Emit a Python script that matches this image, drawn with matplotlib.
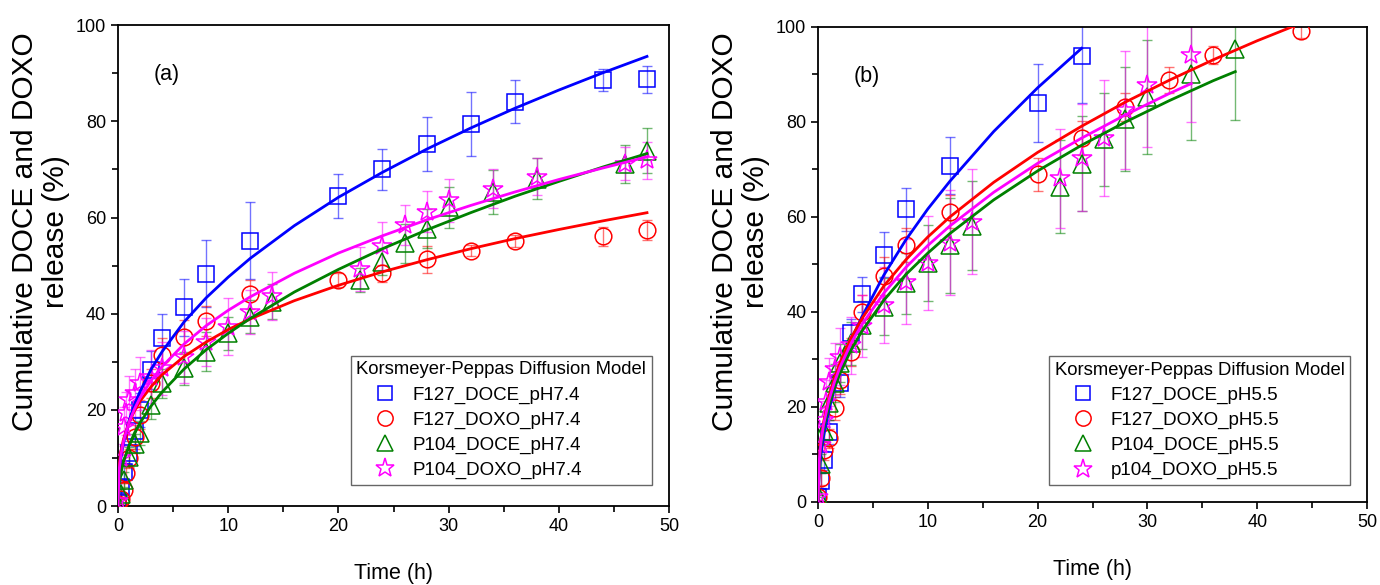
import matplotlib
matplotlib.use("Agg")
import matplotlib.pyplot as plt
from matplotlib.lines import Line2D
from matplotlib.ticker import MultipleLocator

plt.rcParams['font.family'] = ['Liberation Sans', 'DejaVu Sans']

# --- Panel (a): pH 7.4 ---
t_blue_a = [0, 0.25, 0.5, 1, 1.5, 2, 3, 4, 6, 8, 12, 20, 24, 28, 32, 36, 44, 48]
y_blue_a = [1, 4, 7, 11, 15.5, 20, 28.3, 35, 41.3, 48.3, 55.2, 64.5, 70, 75.2, 79.4, 84.1, 88.6, 88.7]
e_blue_a = [0.5, 1.5, 2, 2.5, 3, 3.5, 4, 5, 5.9, 7, 8, 4.6, 4.2, 5.6, 6.6, 4.4, 2.3, 2.9]

t_red_a = [0, 0.25, 0.5, 0.75, 1, 1.5, 2, 3, 4, 6, 8, 12, 20, 24, 28, 32, 36, 44, 48]
y_red_a = [0.5, 1.5, 3.3, 6.8, 9.9, 14.4, 19, 25.5, 31.4, 35.2, 38.5, 44, 47, 48.4, 51.3, 53.1, 55.1, 56.1, 57.4]
e_red_a = [0.5, 1, 1.5, 2, 2, 2.5, 3, 3, 3.5, 3.5, 3.2, 3, 1.5, 1.8, 2.8, 1.2, 1.2, 2, 2]

t_green_a = [0, 0.25, 0.5, 1, 1.5, 2, 3, 4, 6, 8, 10, 12, 14, 22, 24, 26, 28, 30, 34, 38, 46, 48]
y_green_a = [0.5, 2.6, 5.5, 10.2, 13, 15.1, 21, 25.5, 28.6, 32.1, 35.9, 39.4, 42.5, 47, 50.8, 54.6, 57.7, 62.1, 65.3, 68.1, 71.1, 73.9]
e_green_a = [0.5, 1, 1.5, 2, 2, 2.5, 3, 3, 3.5, 4, 3.5, 3.5, 3.6, 2.5, 2.8, 4, 4, 4.3, 4.5, 4.3, 3.9, 4.7]

t_mag_a = [0, 0.25, 0.5, 0.75, 1, 1.5, 2, 3, 4, 6, 8, 10, 12, 14, 22, 24, 26, 28, 30, 34, 38, 46, 48]
y_mag_a = [1, 10, 16.5, 19.3, 22, 23.5, 25.5, 26.9, 28.6, 31, 34.2, 37.3, 40.4, 43.7, 49.3, 54.1, 58.4, 61.2, 63.6, 66, 68.5, 71.2, 71.9]
e_mag_a = [0.5, 3, 4, 4.5, 5, 5, 5.5, 5.5, 5.5, 5.5, 5, 5.9, 4.6, 5, 4.6, 5, 4.2, 4.3, 4.5, 4, 3.8, 3.5, 3.8]

# Korsmeyer-Peppas fit curves
fit_t_a = [0, 0.1, 0.25, 0.5, 1, 1.5, 2, 3, 4, 6, 8, 10, 12, 16, 20, 24, 28, 32, 36, 40, 44, 48]
fit_blue_a = [0, 6.6, 9.8, 13.1, 17.7, 21.1, 23.8, 28.4, 32.1, 38.3, 43.3, 47.6, 51.5, 58.3, 64.2, 69.4, 74.2, 78.6, 82.7, 86.5, 90.1, 93.5]
fit_red_a = [0, 8.3, 11.1, 13.9, 17.4, 19.8, 21.8, 24.8, 27.3, 31.1, 34.1, 36.7, 38.9, 42.7, 45.9, 48.7, 51.2, 53.5, 55.6, 57.5, 59.3, 61.0]
fit_green_a = [0, 4.4, 6.7, 9.2, 12.6, 15.2, 17.3, 20.8, 23.7, 28.5, 32.5, 35.9, 39.0, 44.5, 49.2, 53.5, 57.4, 61.0, 64.4, 67.5, 70.5, 73.3]
fit_mag_a = [0, 7.4, 10.4, 13.5, 17.4, 20.2, 22.5, 26.1, 29.0, 33.7, 37.5, 40.7, 43.5, 48.4, 52.6, 56.2, 59.5, 62.5, 65.3, 67.9, 70.3, 72.6]

labels_a = ["F127_DOCE_pH7.4", "F127_DOXO_pH7.4", "P104_DOCE_pH7.4", "P104_DOXO_pH7.4"]

# --- Panel (b): pH 5.5 ---
t_blue_b = [0, 0.25, 0.5, 1, 2, 3, 4, 6, 8, 12, 20, 24]
y_blue_b = [1, 4.5, 8.8, 14.7, 25, 35.5, 43.7, 52.1, 61.6, 70.8, 83.9, 93.8]
e_blue_b = [0.5, 1.5, 2, 2.5, 3, 3, 3.6, 4.7, 4.5, 6, 8.2, 9.8]

t_red_b = [0, 0.25, 0.5, 1, 1.5, 2, 3, 4, 6, 8, 12, 20, 24, 28, 32, 36, 44]
y_red_b = [1, 5, 10.9, 13.4, 19.7, 25.7, 31.6, 40.1, 47.6, 54.1, 61.1, 69, 76.6, 83.2, 88.8, 94.1, 99.2]
e_red_b = [0.5, 1.5, 2, 2, 2.5, 3, 3, 3.5, 4, 3.5, 3.5, 3.5, 3.5, 3, 2.8, 1.9, 1.5]

t_green_b = [0, 0.25, 0.5, 1, 1.5, 2, 3, 4, 6, 8, 10, 12, 14, 22, 24, 26, 28, 30, 34, 38]
y_green_b = [1.5, 8, 15, 20.8, 25, 29.2, 33.4, 37.3, 41.1, 46, 50.3, 54.1, 58.2, 66.4, 71.2, 76.4, 80.6, 85.2, 90, 95.3]
e_green_b = [0.5, 2, 3, 3.5, 4, 4, 4.5, 5, 6, 6.5, 8, 10, 9.4, 9.7, 10, 9.8, 11, 12, 13.8, 14.9]

t_mag_b = [0, 0.25, 0.5, 0.75, 1, 1.5, 2, 3, 4, 6, 8, 10, 12, 14, 22, 24, 26, 28, 30, 34]
y_mag_b = [1, 12, 17.3, 21.1, 25.3, 28, 30.6, 33, 37, 41.5, 46.4, 50.4, 54.6, 59, 68.1, 72.5, 76.6, 82.5, 87.8, 94.2]
e_mag_b = [0.5, 3, 4, 4.5, 5, 5.5, 6, 6, 6.5, 8, 9, 9.9, 11, 11, 10.5, 11.3, 12.2, 12.4, 13, 14.3]

fit_t_blue_b = [0, 0.1, 0.25, 0.5, 1, 1.5, 2, 3, 4, 6, 8, 10, 12, 16, 20, 24]
fit_blue_b = [0, 6.2, 9.8, 13.8, 19.5, 23.9, 27.6, 33.8, 39.0, 47.8, 55.2, 61.7, 67.5, 78.0, 87.2, 95.5]
fit_t_red_b = [0, 0.1, 0.25, 0.5, 1, 1.5, 2, 3, 4, 6, 8, 10, 12, 16, 20, 24, 28, 32, 36, 40, 44]
fit_red_b = [0, 8.8, 12.7, 16.8, 22.2, 26.1, 29.3, 34.5, 38.6, 45.5, 51.0, 55.8, 60.0, 67.3, 73.6, 79.1, 84.2, 88.8, 93.1, 97.1, 100.8]
fit_t_green_b = [0, 0.1, 0.25, 0.5, 1, 1.5, 2, 3, 4, 6, 8, 10, 12, 16, 20, 24, 28, 32, 36, 38]
fit_green_b = [0, 7.9, 11.6, 15.4, 20.4, 24.1, 27.1, 32.0, 36.0, 42.5, 47.9, 52.4, 56.5, 63.6, 69.7, 75.1, 80.0, 84.5, 88.7, 90.6]
fit_t_mag_b = [0, 0.1, 0.25, 0.5, 1, 1.5, 2, 3, 4, 6, 8, 10, 12, 16, 20, 24, 28, 32, 34]
fit_mag_b = [0, 8.6, 12.3, 16.3, 21.5, 25.3, 28.4, 33.4, 37.4, 44.0, 49.4, 54.0, 58.1, 65.2, 71.3, 76.6, 81.5, 86.0, 88.1]

labels_b = ["F127_DOCE_pH5.5", "F127_DOXO_pH5.5", "P104_DOCE_pH5.5", "p104_DOXO_pH5.5"]

colors = ["#0000ff", "#ff0000", "#008000", "#ff00ff"]
markers = ["s", "o", "^", "*"]
msizes = [11, 12, 13, 15]


def draw_panel(ax, series, fits, labels, tag, leg_anchor):
    for (t, y, e), c, m, ms in zip(series, colors, markers, msizes):
        ax.errorbar(t, y, yerr=e, fmt="none", ecolor=c, elinewidth=1,
                    capsize=3.5, alpha=0.55, zorder=2)
        ax.plot(t, y, linestyle="none", marker=m, markersize=ms,
                markerfacecolor="none", markeredgecolor=c, markeredgewidth=1.1, zorder=3)
    for (ft, fy), c in zip(fits, colors):
        ax.plot(ft, fy, color=c, linewidth=2.0, zorder=4)

    ax.set_xlim(0, 50)
    ax.set_ylim(0, 100)
    ax.xaxis.set_major_locator(MultipleLocator(10))
    ax.xaxis.set_minor_locator(MultipleLocator(5))
    ax.yaxis.set_major_locator(MultipleLocator(20))
    ax.yaxis.set_minor_locator(MultipleLocator(10))
    ax.tick_params(which="both", direction="out", top=False, right=False,
                   width=1.2, labelsize=13)
    ax.tick_params(which="major", length=5)
    ax.tick_params(which="minor", length=4)
    for s in ax.spines.values():
        s.set_linewidth(1.3)

    ax.set_xlabel("Time (h)", fontsize=15.5, labelpad=20)
    ax.set_ylabel("Cumulative DOCE and DOXO\nrelease (%)", fontsize=21.5,
                  linespacing=1.15)
    ax.yaxis.set_label_coords(-0.087, 0.57)
    ax.text(0.065, 0.885, tag, transform=ax.transAxes, fontsize=15.5)

    handles = [Line2D([], [], linestyle="none", marker=m, markersize=ms - 1,
                      markerfacecolor="none", markeredgecolor=c, markeredgewidth=1.1)
               for c, m, ms in zip(colors, markers, msizes)]
    leg = ax.legend(handles, labels, title="Korsmeyer-Peppas Diffusion Model",
                    loc="lower right", bbox_to_anchor=leg_anchor, borderaxespad=0,
                    fontsize=13.5, title_fontsize=13.3, frameon=True, fancybox=False,
                    edgecolor="#666666", framealpha=1, labelspacing=0.42,
                    handlelength=3.0, handletextpad=0.0, borderpad=0.3,
                    alignment="left")
    leg.get_frame().set_linewidth(1.0)


fig = plt.figure(figsize=(13.8, 5.85), dpi=100)
ax_a = fig.add_axes([0.0855, 0.135, 0.3993, 0.822])
ax_b = fig.add_axes([0.5928, 0.1419, 0.3978, 0.812])

draw_panel(ax_a,
           [(t_blue_a, y_blue_a, e_blue_a), (t_red_a, y_red_a, e_red_a),
            (t_green_a, y_green_a, e_green_a), (t_mag_a, y_mag_a, e_mag_a)],
           [(fit_t_a, fit_blue_a), (fit_t_a, fit_red_a),
            (fit_t_a, fit_green_a), (fit_t_a, fit_mag_a)],
           labels_a, "(a)", (0.969, 0.044))
draw_panel(ax_b,
           [(t_blue_b, y_blue_b, e_blue_b), (t_red_b, y_red_b, e_red_b),
            (t_green_b, y_green_b, e_green_b), (t_mag_b, y_mag_b, e_mag_b)],
           [(fit_t_blue_b, fit_blue_b), (fit_t_red_b, fit_red_b),
            (fit_t_green_b, fit_green_b), (fit_t_mag_b, fit_mag_b)],
           labels_b, "(b)", (0.969, 0.036))

fig.savefig("out.png", dpi=100)
